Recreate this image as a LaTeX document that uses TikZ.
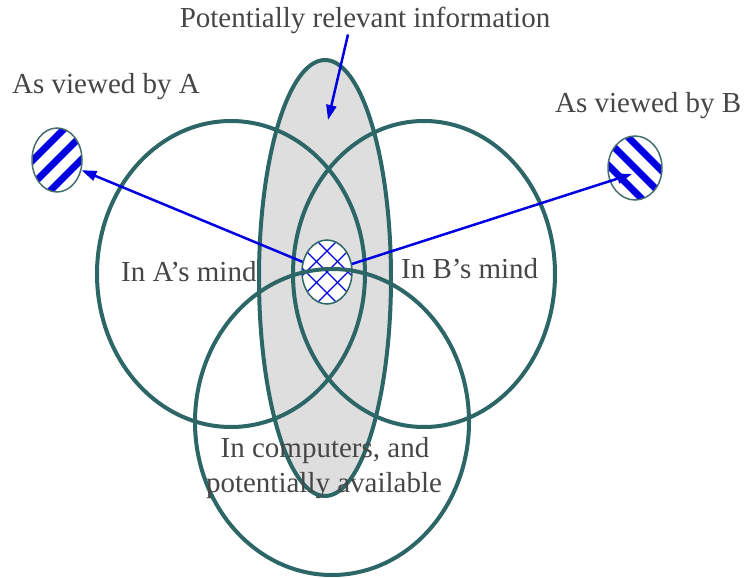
\documentclass[tikz,border=0pt]{standalone}
\usepackage{fontspec}
\setmainfont{Liberation Serif}
\usetikzlibrary{shapes.geometric,arrows.meta}
\definecolor{teal1}{RGB}{45,102,102}
\definecolor{txtgray}{RGB}{70,70,70}
\definecolor{blu}{RGB}{0,0,225}
\tikzset{
  ring/.style={ellipse, draw=teal1, line width=4pt, inner sep=0pt},
  blob/.style={ellipse, draw=teal1!70!gray, line width=1.5pt, inner sep=0pt, fill=white},
  stripesNE/.style={path picture={
     \foreach \k in {-3,...,3}
       \draw[blu, line width=#1] ([shift={(\k*24-45,45)}]path picture bounding box.center)
                              -- ([shift={(\k*24+45,-45)}]path picture bounding box.center);}},
  stripesNW/.style={path picture={
     \foreach \k in {-3,...,3}
       \draw[blu, line width=#1] ([shift={(\k*24-45,-45)}]path picture bounding box.center)
                              -- ([shift={(\k*24+45,45)}]path picture bounding box.center);}},
  hatchX/.style={path picture={
     \foreach \k in {-3,...,3}{
       \draw[blu, line width=1.1pt] ([shift={(\k*21-45,45)}]path picture bounding box.center)
                              -- ([shift={(\k*21+45,-45)}]path picture bounding box.center);
       \draw[blu, line width=1.1pt] ([shift={(\k*21-45,-45)}]path picture bounding box.center)
                              -- ([shift={(\k*21+45,45)}]path picture bounding box.center);}}},
  lbl/.style={inner sep=0pt, anchor=base, text=txtgray, font=\fontsize{29}{34}\selectfont},
  arr/.style={draw=blu, line width=2.5pt, -{Triangle[length=15pt,width=10pt]}}
}
\begin{document}
\begin{tikzpicture}[x=1pt,y=-1pt]
\useasboundingbox (0,0) rectangle (745,578);
% tall ellipse (potentially relevant information)
\node[ring, fill=black!13, minimum width=132pt, minimum height=436pt] (rel) at (325,278) {};
% central small ellipse
\node[blob, draw=teal1, hatchX, minimum width=50pt, minimum height=64pt] (cen) at (327,272) {};
% viewed ellipses
\node[blob, stripesNE=7pt, minimum width=50pt, minimum height=64pt] (va) at (57,160) {};
\node[blob, stripesNW=7pt, minimum width=54pt, minimum height=64pt] (vb) at (635,168) {};
% three circles
\node[ring, minimum width=268pt, minimum height=306pt] (mA) at (231,274) {};
\node[ring, minimum width=262pt, minimum height=306pt] (mB) at (424,274) {};
\node[ring, minimum width=274pt, minimum height=306pt] (mC) at (332,422) {};
% texts
\node[lbl] (ptxt) at (365,28) {Potentially relevant information};
\node[lbl, anchor=base west] (ta) at (12,94) {As viewed by A};
\node[lbl, anchor=base west] (tb) at (555,113) {As viewed by B};
\node[lbl, anchor=base west] (ma) at (121,281) {In A’s mind};
\node[lbl, anchor=base west] (mb) at (401,278) {In B’s mind};
\node[lbl] (c1) at (325,457) {In computers, and};
\node[lbl] (c2) at (324,492) {potentially available};
% arrows
\coordinate (tipB) at (632,174);
\coordinate (tipP) at (328,120);
\draw[arr] (cen) -- (va);
\draw[arr] (cen) -- (tipB);
\draw[arr] ([xshift=-17pt]ptxt.south) -- (tipP);
\end{tikzpicture}
\end{document}
